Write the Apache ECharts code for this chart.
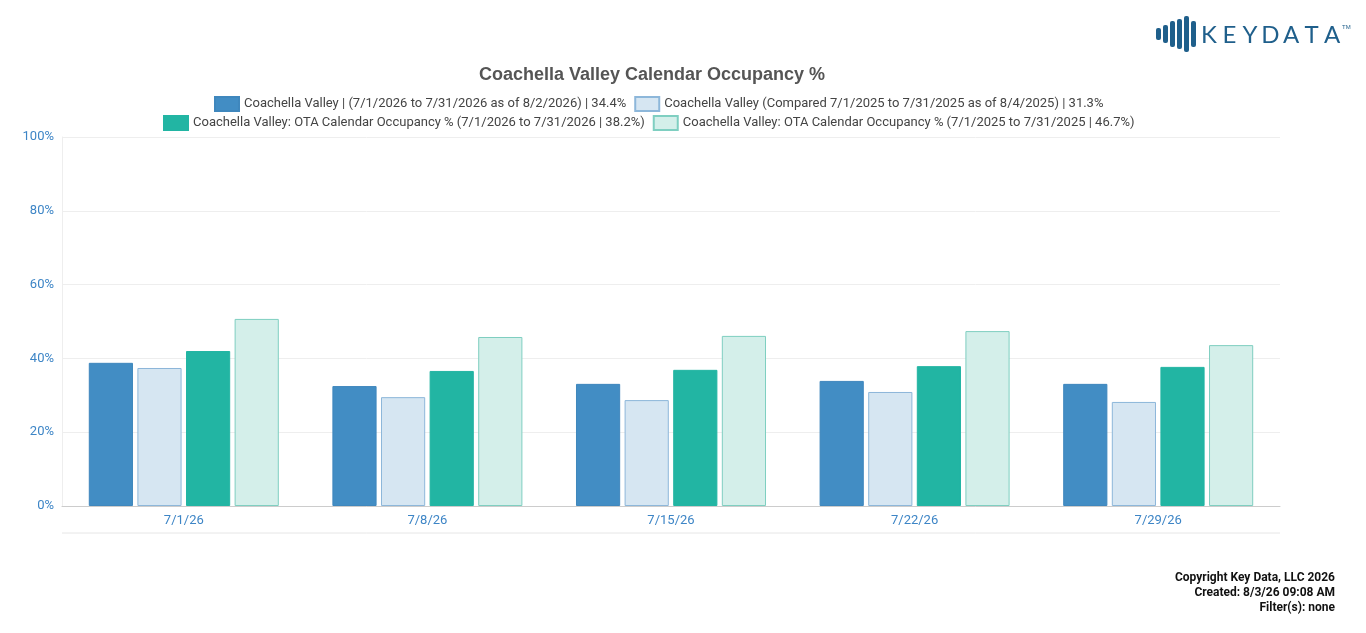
<!DOCTYPE html>
<html><head><meta charset="utf-8">
<script src="https://cdn.jsdelivr.net/npm/echarts@6/dist/echarts.min.js"></script>
<style>html,body{margin:0;padding:0;background:#fff}#c{width:1366px;height:633px}</style>
</head><body><div id="c"></div>
<script>
const categories = ['7/1/26','7/8/26','7/15/26','7/22/26','7/29/26'];
const names = [
 'Coachella Valley | (7/1/2026 to 7/31/2026 as of 8/2/2026) | 34.4%',
 'Coachella Valley (Compared 7/1/2025 to 7/31/2025 as of 8/4/2025) | 31.3%',
 'Coachella Valley: OTA Calendar Occupancy % (7/1/2026 to 7/31/2026 | 38.2%)',
 'Coachella Valley: OTA Calendar Occupancy % (7/1/2025 to 7/31/2025 | 46.7%)'
];
const s1 = [38.8, 32.5, 33.1, 33.9, 33.1];
const s2 = [37.4, 29.5, 28.7, 30.9, 28.2];
const s3 = [42.0, 36.6, 36.9, 37.9, 37.7];
const s4 = [50.7, 45.8, 46.1, 47.4, 43.6];
const yTicks = [0,20,40,60,80,100];
const fills = ['#428dc4','#d6e6f2','#22b5a3','#d4efea'];
const borders = ['#3f87bd','#8db7da','#22b5a3','#7fcfc1'];
const data = [s1,s2,s3,s4];
const chart = echarts.init(document.getElementById('c'));
const bars = [];
for (let i=0;i<6;i++) bars.push({x:1156+i*7, h:[12,18,26,30,36,26][i]});
const logo = 'KEYDATA'.split('');
const legBase = {itemWidth:24,itemHeight:14,itemGap:8,icon:'rect',textStyle:{fontFamily:'Roboto',fontSize:13,color:'#444'}};
chart.setOption({
  animation:false,
  title:{text:'Coachella Valley Calendar Occupancy %',left:647,textAlign:'center',top:61,textStyle:{fontFamily:'Liberation Sans',fontSize:18,fontWeight:'bold',color:'#555'}},
  legend:[
    Object.assign({top:91,left:209,data:names.slice(0,2)},legBase),
    Object.assign({top:110,left:158,data:names.slice(2)},legBase)
  ],
  grid:{left:62,right:86,top:137,bottom:127},
  xAxis:{type:'category',data:categories,axisTick:{show:false},axisLine:{lineStyle:{color:'#ccc'}},axisLabel:{color:'#3d85c6',fontFamily:'Roboto',fontSize:13,margin:8}},
  yAxis:{type:'value',min:0,max:100,interval:20,axisLabel:{color:'#3d85c6',fontFamily:'Roboto',fontSize:13,formatter:v=>yTicks.includes(v)?v+'%':''},splitLine:{lineStyle:{color:'#eee'}},axisLine:{show:true,lineStyle:{color:'#eee'}}},
  series:data.map((d,i)=>({name:names[i],type:'bar',data:d,barGap:'10%',barCategoryGap:'22%',itemStyle:{color:fills[i],borderColor:borders[i],borderWidth:1}})),
  graphic:[
    {type:'line',shape:{x1:62,y1:533,x2:1280,y2:533},style:{stroke:'#e6e6e6',lineWidth:1}},
    ...bars.map(b=>({type:'rect',shape:{x:b.x,y:34-b.h/2,width:5,height:b.h,r:2},style:{fill:'#1f5f8b'}})),
    ...logo.map((ch,i)=>({type:'text',x:1209+i*20.5,y:35,style:{text:ch,textAlign:'center',textVerticalAlign:'middle',fontFamily:'Lato',fontSize:24,fill:'#1f5f8b'}})),
    {type:'text',x:1342,y:24,style:{text:'TM',fontSize:6,fill:'#1f5f8b'}},
    {type:'text',x:1335,y:570,style:{text:'Copyright Key Data, LLC 2026\nCreated: 8/3/26 09:08 AM\nFilter(s): none',align:'right',textAlign:'right',fontFamily:'Roboto',fontSize:12,fontWeight:'bold',fill:'#111',lineHeight:15}}
  ]
});
</script></body></html>
